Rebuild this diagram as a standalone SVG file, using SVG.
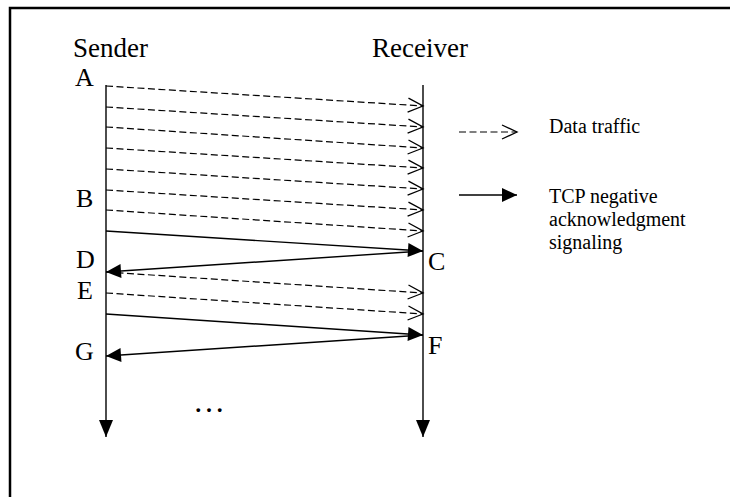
<svg xmlns="http://www.w3.org/2000/svg" width="730" height="497" viewBox="0 0 730 497">
<style>
.t{font-family:"Liberation Serif","Times New Roman",serif;fill:#000}
.big{font-size:27px}
.lbl{font-size:26px}
.leg{font-size:20px}
.ln{stroke:#000;stroke-width:1.4;fill:none}
.ds{stroke:#000;stroke-width:1.2;fill:none;stroke-dasharray:7 3.5}
</style>
<defs>
<marker id="open" markerUnits="userSpaceOnUse" markerWidth="16" markerHeight="16" refX="15" refY="7" orient="auto" overflow="visible">
<path d="M0,0 L15,7 L0,14" fill="none" stroke="#000" stroke-width="1.3"/>
</marker>
<marker id="fill" markerUnits="userSpaceOnUse" markerWidth="16" markerHeight="16" refX="15" refY="7" orient="auto" overflow="visible">
<path d="M0,0 L15,7 L0,14 Z" fill="#000"/>
</marker>
<marker id="down" markerUnits="userSpaceOnUse" markerWidth="18" markerHeight="16" refX="17" refY="7" orient="auto" overflow="visible">
<path d="M0,0 L17,7 L0,14 Z" fill="#000"/>
</marker>
</defs>
<rect x="0" y="0" width="730" height="497" fill="#fff"/>
<path d="M10,497 V8 H730" fill="none" stroke="#000" stroke-width="2.5"/>

<g id="sender">
<text class="t big" x="73" y="57">Sender</text>
<line class="ln" x1="106" y1="85" x2="106" y2="437" marker-end="url(#down)"/>
</g>
<g id="receiver">
<text class="t big" x="372" y="57">Receiver</text>
<line class="ln" x1="423" y1="85" x2="423" y2="437" marker-end="url(#down)"/>
</g>
<g id="labels">
<text class="t lbl" x="75" y="86">A</text>
<text class="t lbl" x="76" y="207">B</text>
<text class="t lbl" x="428" y="270">C</text>
<text class="t lbl" x="76" y="268">D</text>
<text class="t lbl" x="77" y="299">E</text>
<text class="t lbl" x="428" y="354">F</text>
<text class="t lbl" x="75" y="360">G</text>
<text class="t" x="193" y="412" font-size="32">…</text>
</g>
<g id="connectors">
<line class="ds" x1="106" y1="86" x2="423" y2="106" marker-end="url(#open)"/>
<line class="ds" x1="106" y1="107" x2="423" y2="127" marker-end="url(#open)"/>
<line class="ds" x1="106" y1="127" x2="423" y2="148" marker-end="url(#open)"/>
<line class="ds" x1="106" y1="148" x2="423" y2="168" marker-end="url(#open)"/>
<line class="ds" x1="106" y1="169" x2="423" y2="189" marker-end="url(#open)"/>
<line class="ds" x1="106" y1="190" x2="423" y2="210" marker-end="url(#open)"/>
<line class="ds" x1="106" y1="210" x2="423" y2="231" marker-end="url(#open)"/>
<line class="ln" x1="106" y1="231" x2="423" y2="251" marker-end="url(#fill)"/>
<line class="ln" x1="423" y1="251" x2="106" y2="272" marker-end="url(#fill)"/>
<line class="ds" x1="106" y1="272" x2="423" y2="293" marker-end="url(#open)"/>
<line class="ds" x1="106" y1="293" x2="423" y2="314" marker-end="url(#open)"/>
<line class="ln" x1="106" y1="314" x2="423" y2="335" marker-end="url(#fill)"/>
<line class="ln" x1="423" y1="335" x2="106" y2="356" marker-end="url(#fill)"/>
</g>
<g id="legend">
<line class="ds" x1="459" y1="132" x2="517" y2="132" marker-end="url(#open)"/>
<text class="t leg" x="549" y="133">Data traffic</text>
<line class="ln" x1="459" y1="195" x2="517" y2="195" marker-end="url(#fill)"/>
<text class="t leg" x="549" y="203">TCP negative</text>
<text class="t leg" x="549" y="226">acknowledgment</text>
<text class="t leg" x="549" y="249">signaling</text>
</g>
</svg>
